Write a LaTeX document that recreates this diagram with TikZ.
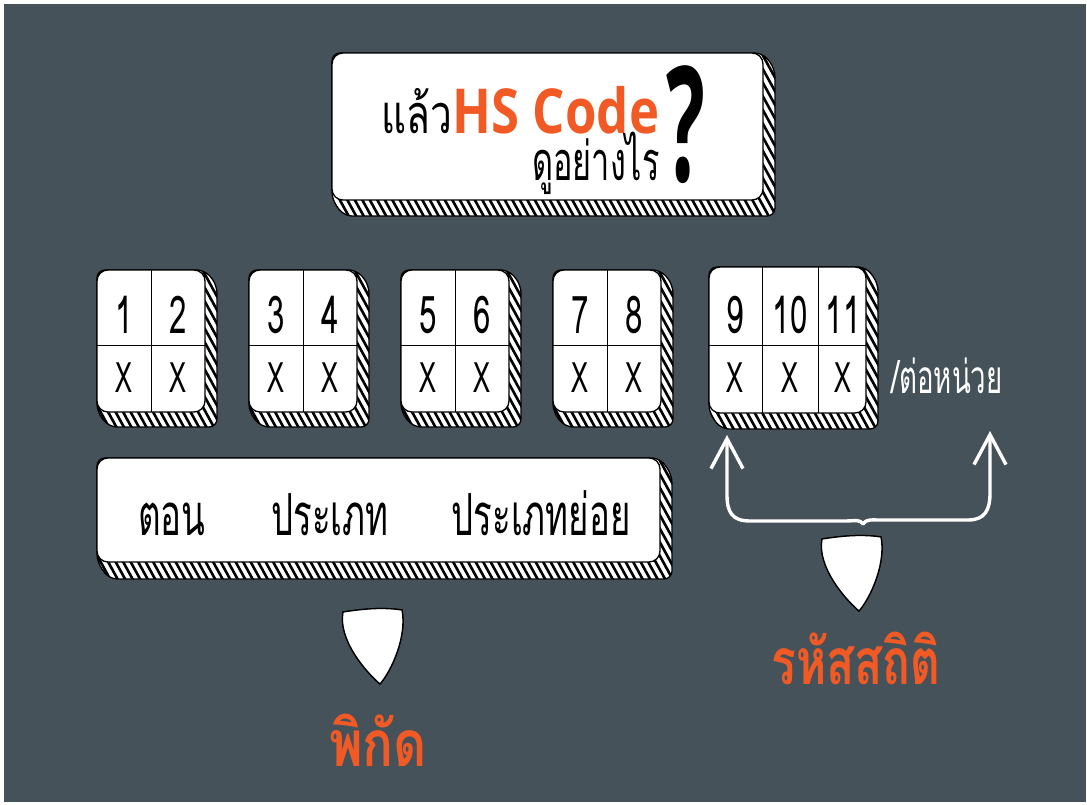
\documentclass[tikz,border=0pt]{standalone}
\usepackage{fontspec}
\usetikzlibrary{arrows.meta,calc}
\newfontfamily\thaiN[Script=Thai,FakeStretch=0.72]{Loma}
\newfontfamily\thaiC[Script=Thai,FakeStretch=0.6]{Loma}
\newfontfamily\thaiB[Script=Thai,FakeStretch=0.72]{Loma}
\newfontfamily\thaiBB[Script=Thai,FakeStretch=0.8]{Loma}
\newfontfamily\sansB[FakeStretch=0.82]{Open Sans}
\definecolor{bgslate}{HTML}{45525A}
\definecolor{hsorange}{HTML}{F15A24}
\newcommand{\hatchbox}[6]{%
  \pgfmathsetmacro{\hxa}{#1-(#4+#6-#2)}%
  \pgfmathsetmacro{\hxb}{\hxa+7.5}%
  \pgfmathsetmacro{\hxe}{#3+#5}%
  \pgfmathsetmacro{\hL}{#4+#6-#2+8}%
  \pgfmathsetmacro{\hLx}{0.55*\hL}%
  \fill[white,rounded corners=8] (#1,#2) -- (#3,#2) -- (#3+#5,#2+#6) -- (#3+#5,#4+#6) -- (#1+#5,#4+#6) -- (#1,#4) -- cycle;
  \begin{scope}
    \clip[rounded corners=8] (#1,#2) -- (#3,#2) -- (#3+#5,#2+#6) -- (#3+#5,#4+#6) -- (#1+#5,#4+#6) -- (#1,#4) -- cycle;
    \foreach \s in {\hxa,\hxb,...,\hxe} \draw[stripe] (\s,#2) -- ++(\hLx,\hL);
  \end{scope}
  \draw[outl,rounded corners=8] (#1,#2) -- (#3,#2) -- (#3+#5,#2+#6) -- (#3+#5,#4+#6) -- (#1+#5,#4+#6) -- (#1,#4) -- cycle;
  \draw[outl,fill=white,rounded corners=11] (#1,#2) rectangle (#3,#4);
}
\newcommand{\shieldpath}[3]{(#1) .. controls ($(#1)+(20,-3)$) and ($(#2)+(-20,-3)$) .. (#2) .. controls ($(#2)+(5,26)$) and ($(#3)+(12,-14)$) .. (#3) .. controls ($(#3)+(-14,-12)$) and ($(#1)+(-5,28)$) .. (#1) -- cycle}
\newcommand{\shield}[3]{%
  \begin{scope}[shift={(8,3)}]
    \fill[white] \shieldpath{#1}{#2}{#3};
    \begin{scope}
      \clip \shieldpath{#1}{#2}{#3};
      \foreach \s in {-60,-54,...,110} \draw[stripe,line width=2] ($(#1)+(\s,-5)$) -- ++(45,100);
    \end{scope}
    \draw[outl] \shieldpath{#1}{#2}{#3};
  \end{scope}
  \draw[outl,fill=white] \shieldpath{#1}{#2}{#3};
}
\begin{document}
\begin{tikzpicture}[x=1pt,y=-1pt,
  stripe/.style={black,line width=2.6},
  outl/.style={black,line width=1.3},
  divl/.style={black,line width=0.8},
  digit/.style={anchor=base,inner sep=0,font=\thaiC\fontsize{52}{52}\selectfont},
  xmark/.style={anchor=base,inner sep=0,font=\thaiC\fontsize{42}{42}\selectfont},
  thaitxt/.style={anchor=base,inner sep=0,font=\thaiC\fontsize{58}{58}\selectfont},
  orangelbl/.style={anchor=base,inner sep=0,text=hsorange},
  bracket/.style={white,line width=3.4,line cap=round,line join=round}]
\useasboundingbox (0,0) rectangle (1087,805);
\fill[white] (0,0) rectangle (1087,805);
\fill[bgslate] (4,4) rectangle (1086,802);

% title box
\hatchbox{332}{53}{763}{200}{12}{16}
\node[anchor=base,inner sep=0,font=\thaiN\fontsize{54}{54}\selectfont] (lae) at (417,134) {แล้ว};
\node[anchor=base,inner sep=0,text=hsorange,font=\sansB\bfseries\fontsize{62}{62}\selectfont] (hs) at (556,134) {HS Code};
\node[inner sep=0,font=\sansB\bfseries\fontsize{160}{160}\selectfont] (q) at (686,125) {\scalebox{0.62}[1]{?}};
\node[anchor=base,inner sep=0,font=\thaiC\fontsize{54}{54}\selectfont] (duyang) at (596,181) {ดูอย่างไร};

% two-digit boxes
\foreach \i/\a/\b in {0/1/2,1/3/4,2/5/6,3/7/8}{
  \pgfmathsetmacro{\xa}{97+152*\i}
  \pgfmathsetmacro{\xb}{\xa+108}
  \pgfmathsetmacro{\xm}{\xa+54}
  \hatchbox{\xa}{270}{\xb}{412}{12}{15}
  \draw[divl] (\xm,270) -- (\xm,412);
  \draw[divl] (\xa,345) -- (\xb,345);
  \node[digit] (d\a) at (\xa+27,333) {\a};
  \node[digit] (d\b) at (\xa+81,333) {\b};
  \node[xmark] (x\a) at (\xa+27,392) {X};
  \node[xmark] (x\b) at (\xa+81,392) {X};
}
% three-digit box
\hatchbox{709}{267}{866}{413}{12}{16}
\draw[divl] (762,267) -- (762,413);
\draw[divl] (818,267) -- (818,413);
\draw[divl] (709,345) -- (866,345);
\node[digit] (d9) at (735,333) {9};
\node[digit] (d10) at (790,333) {10};
\node[digit] (d11) at (843,333) {11};
\node[xmark] (x9) at (735,392) {X};
\node[xmark] (x10) at (790,392) {X};
\node[xmark] (x11) at (843,392) {X};
\node[anchor=base,inner sep=0,text=white,font=\thaiC\fontsize{46}{46}\selectfont] (perunit) at (947,393) {/ต่อหน่วย};

% long box
\hatchbox{97}{458}{660}{562}{12}{17}
\node[thaitxt] (ton) at (172,535) {ตอน};
\node[thaitxt] (prapet) at (330,535) {ประเภท};
\node[thaitxt] (prapetyoi) at (541,535) {ประเภทย่อย};

% bracket arrows
\coordinate (lt) at (727,435);
\coordinate (rt) at (990,431);
\coordinate (mid) at (863,524);
\draw[bracket,-{Straight Barb[length=30pt,width=32pt,line width=3.4pt]}] (mid) .. controls (860,519) and (855,521) .. (845,521) -- (750,521) .. controls (732,521) and (727,512) .. (727,495) -- (lt);
\draw[bracket,-{Straight Barb[length=30pt,width=32pt,line width=3.4pt]}] (mid) .. controls (866,519) and (871,520) .. (881,520) -- (968,520) .. controls (985,520) and (990,510) .. (990,493) -- (rt);

% shields
\coordinate (sa1) at (822,539); \coordinate (sb1) at (881,537); \coordinate (st1) at (859,611);
\shield{sa1}{sb1}{st1}
\coordinate (sa2) at (343,612); \coordinate (sb2) at (402,610); \coordinate (st2) at (380,684);
\shield{sa2}{sb2}{st2}

\node[orangelbl,font=\thaiB\bfseries\fontsize{64}{64}\selectfont] (rahat) at (856,684) {รหัสสถิติ};
\node[orangelbl,font=\thaiBB\bfseries\fontsize{64}{64}\selectfont] (pikat) at (378,766) {พิกัด};
\end{tikzpicture}
\end{document}
